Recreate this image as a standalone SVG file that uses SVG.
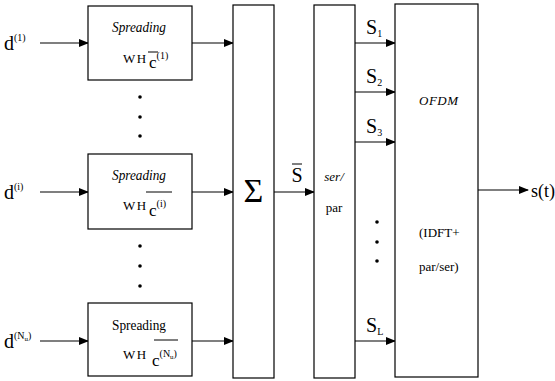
<svg xmlns="http://www.w3.org/2000/svg" width="555" height="381" viewBox="0 0 555 381">
<defs>
<marker id="ah" markerWidth="10" markerHeight="8" refX="9" refY="4" orient="auto" markerUnits="userSpaceOnUse">
<path d="M0,0 L10,4 L0,8 Z" fill="#000"/>
</marker>
<style>
.box{fill:#fff;stroke:#000;stroke-width:1.2}
.ln{stroke:#000;stroke-width:1.2;fill:none;marker-end:url(#ah)}
.dot{fill:#000}
svg text, svg tspan, svg g text, .t{font-family:"Liberation Serif","Times New Roman",serif !important}
</style>
</defs>
<rect width="555" height="381" fill="#fff"/>
<g id="connectors">
<line class="ln" x1="40" y1="43" x2="88" y2="43"/>
<line class="ln" x1="40" y1="192" x2="88" y2="192"/>
<line class="ln" x1="40" y1="341" x2="88" y2="341"/>
<line class="ln" x1="192" y1="43" x2="233" y2="43"/>
<line class="ln" x1="192" y1="192" x2="233" y2="192"/>
<line class="ln" x1="192" y1="341" x2="233" y2="341"/>
<line class="ln" x1="274" y1="192" x2="314" y2="192"/>
<line class="ln" x1="355" y1="43" x2="395" y2="43"/>
<line class="ln" x1="355" y1="92" x2="395" y2="92"/>
<line class="ln" x1="355" y1="142" x2="395" y2="142"/>
<line class="ln" x1="355" y1="341" x2="395" y2="341"/>
<line class="ln" x1="478" y1="190" x2="528" y2="190"/>
</g>
<g id="inputs">
<text class="t" style="font-family:'Liberation Serif',serif" x="4" y="50" font-size="20">d<tspan font-size="10" dy="-9">(1)</tspan></text>
<text class="t" style="font-family:'Liberation Serif',serif" x="4" y="199" font-size="20">d<tspan font-size="10" dy="-9">(i)</tspan></text>
<text class="t" style="font-family:'Liberation Serif',serif" x="4" y="348" font-size="20">d<tspan font-size="10" dy="-9">(N</tspan><tspan font-size="7" dy="2">u</tspan><tspan font-size="10" dy="-2">)</tspan></text>
</g>
<g id="spread1">
<rect class="box" x="88" y="6" width="104" height="74"/>
<text class="t" style="font-family:'Liberation Serif',serif" x="112" y="32" font-size="14" font-style="italic" textLength="54" lengthAdjust="spacingAndGlyphs">Spreading</text>
<text class="t" style="font-family:'Liberation Serif',serif" x="123" y="63" font-size="13" letter-spacing="1.5">WH</text>
<text class="t" style="font-family:'Liberation Serif',serif" x="149" y="68" font-size="17">c<tspan font-size="10" dy="-9">(1)</tspan></text>
<line x1="148" y1="52" x2="158" y2="52" stroke="#000" stroke-width="1"/>
</g>
<g id="dots1">
<circle class="dot" cx="140" cy="97" r="1.8"/>
<circle class="dot" cx="140" cy="117" r="1.8"/>
<circle class="dot" cx="140" cy="136" r="1.8"/>
</g>
<g id="spread2">
<rect class="box" x="88" y="154" width="104" height="75"/>
<text class="t" style="font-family:'Liberation Serif',serif" x="112" y="180" font-size="14" font-style="italic" textLength="54" lengthAdjust="spacingAndGlyphs">Spreading</text>
<text class="t" style="font-family:'Liberation Serif',serif" x="123" y="210" font-size="13" letter-spacing="1.5">WH</text>
<text class="t" style="font-family:'Liberation Serif',serif" x="149" y="216" font-size="17">c<tspan font-size="10" dy="-9">(i)</tspan></text>
<line x1="146" y1="192" x2="172" y2="192" stroke="#000" stroke-width="1"/>
</g>
<g id="dots2">
<circle class="dot" cx="140" cy="246" r="1.8"/>
<circle class="dot" cx="140" cy="266" r="1.8"/>
<circle class="dot" cx="140" cy="286" r="1.8"/>
</g>
<g id="spread3">
<rect class="box" x="88" y="303" width="104" height="73"/>
<text class="t" style="font-family:'Liberation Serif',serif" x="112" y="330" font-size="14" textLength="54" lengthAdjust="spacingAndGlyphs">Spreading</text>
<text class="t" style="font-family:'Liberation Serif',serif" x="123" y="359" font-size="13" letter-spacing="1.5">WH</text>
<text class="t" style="font-family:'Liberation Serif',serif" x="152" y="366" font-size="17">c<tspan font-size="10" dy="-9">(N</tspan><tspan font-size="7" dy="2">u</tspan><tspan font-size="10" dy="-2">)</tspan></text>
<line x1="154" y1="340" x2="178" y2="340" stroke="#000" stroke-width="1"/>
</g>
<g id="sum">
<rect class="box" x="233" y="5" width="41" height="373"/>
<text class="t" style="font-family:'Liberation Serif',serif" x="253.5" y="202" font-size="34" text-anchor="middle">Σ</text>
</g>
<g id="sbar">
<text class="t" style="font-family:'Liberation Serif',serif" x="297" y="182" font-size="20" text-anchor="middle">S</text>
<line x1="292" y1="164" x2="302" y2="164" stroke="#000" stroke-width="1"/>
</g>
<g id="serpar">
<rect class="box" x="314" y="5" width="41" height="373"/>
<text class="t" style="font-family:'Liberation Serif',serif" x="334" y="181" font-size="13" font-style="italic" text-anchor="middle">ser/</text>
<text class="t" style="font-family:'Liberation Serif',serif" x="334" y="212" font-size="13" text-anchor="middle">par</text>
</g>
<g id="slabels">
<text class="t" style="font-family:'Liberation Serif',serif" x="366" y="34" font-size="20">S<tspan font-size="10" dy="3">1</tspan></text>
<text class="t" style="font-family:'Liberation Serif',serif" x="366" y="83" font-size="20">S<tspan font-size="10" dy="3">2</tspan></text>
<text class="t" style="font-family:'Liberation Serif',serif" x="366" y="133" font-size="20">S<tspan font-size="10" dy="3">3</tspan></text>
<text class="t" style="font-family:'Liberation Serif',serif" x="366" y="332" font-size="20">S<tspan font-size="10" dy="3">L</tspan></text>
<circle class="dot" cx="377" cy="222" r="1.8"/>
<circle class="dot" cx="377" cy="242" r="1.8"/>
<circle class="dot" cx="377" cy="261" r="1.8"/>
</g>
<g id="ofdm">
<rect class="box" x="395" y="4" width="83" height="373"/>
<text class="t" style="font-family:'Liberation Serif',serif" x="419" y="105" font-size="13" font-style="italic" letter-spacing="0.5">OFDM</text>
<text class="t" style="font-family:'Liberation Serif',serif" x="419" y="237" font-size="13">(IDFT+</text>
<text class="t" style="font-family:'Liberation Serif',serif" x="419" y="271" font-size="13">par/ser)</text>
</g>
<g id="output">
<text class="t" style="font-family:'Liberation Serif',serif" x="531" y="197" font-size="18">s(t)</text>
</g>
</svg>
